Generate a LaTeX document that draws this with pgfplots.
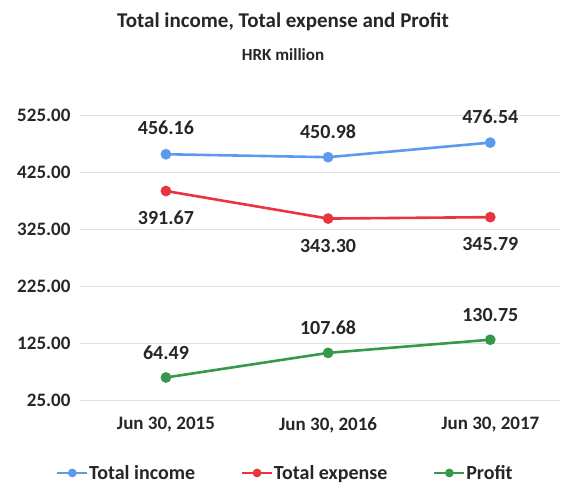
\documentclass[border=0pt]{standalone}
\usepackage{fontspec}
\setmainfont{Carlito}
\usepackage{pgfplots}
\pgfplotsset{compat=1.18}
\definecolor{cinc}{HTML}{5B9BEF}
\definecolor{cexp}{HTML}{E8353F}
\definecolor{cpro}{HTML}{35984A}
\newcommand{\lbl}{\bfseries\fontsize{20}{24}\selectfont}
\newcommand{\tck}{\bfseries\fontsize{19}{23}\selectfont}
\begin{document}
\begin{tikzpicture}[x=1pt,y=1pt]
\path[use as bounding box] (-80,-87) rectangle (484,400);
\begin{axis}[
  at={(0,0)}, anchor=south west,
  scale only axis,
  width=480pt, height=285pt,
  xmin=-0.53, xmax=2.43,
  ymin=25, ymax=525,
  ytick={25,125,225,325,425,525},
  xtick={0,1,2},
  xticklabels={{Jun 30, 2015}, {Jun 30, 2016}, {Jun 30, 2017}},
  ymajorgrids,
  grid style={gray!25, line width=0.9pt},
  axis line style={draw=none},
  major tick length=0pt,
  yticklabel style={font=\tck, text=black!85, xshift=-6pt},
  xticklabel style={font=\tck, text=black!85, yshift=-14pt},
  /pgf/number format/assume math mode=true,
  y tick label style={/pgf/number format/.cd, fixed, fixed zerofill, precision=2},
  clip=false,
  every axis plot/.append style={line width=2.6pt, mark=*, mark size=4pt},
  nodes near coords={\pgfmathprintnumber[fixed,fixed zerofill,precision=2,assume math mode=true]{\pgfplotspointmeta}},
  nodes near coords style={font=\lbl, text=black!85},
  legend columns=3,
  legend style={at={(0.427,-0.256)}, anchor=center, draw=none, font=\lbl, text=black!85,
    /tikz/every even column/.append style={column sep=45pt},
    /tikz/every node/.append style={inner xsep=1pt}},
  legend image code/.code={
    \draw[#1, line width=1.8pt] (0pt,0pt) -- (30pt,0pt);
    \fill[#1] (15pt,0pt) circle (3pt);
  },
]
\addplot[color=cinc, nodes near coords style={anchor=center, yshift=26pt}] coordinates {(0,456.16) (1,450.98) (2,476.54)};
\addlegendentry{Total income}
\addplot[color=cexp, nodes near coords style={anchor=center, yshift=-27pt}] coordinates {(0,391.67) (1,343.30) (2,345.79)};
\addlegendentry{Total expense}
\addplot[color=cpro, nodes near coords style={anchor=center, yshift=25pt}] coordinates {(0,64.49) (1,107.68) (2,130.75)};
\addlegendentry{Profit}
\end{axis}
\node[font=\bfseries\fontsize{21}{25}\selectfont, text=black!85] at (203,378) {Total income, Total expense and Profit};
\node[font=\bfseries\fontsize{17}{20}\selectfont, text=black!85] at (203,345) {HRK million};
\end{tikzpicture}
\end{document}
